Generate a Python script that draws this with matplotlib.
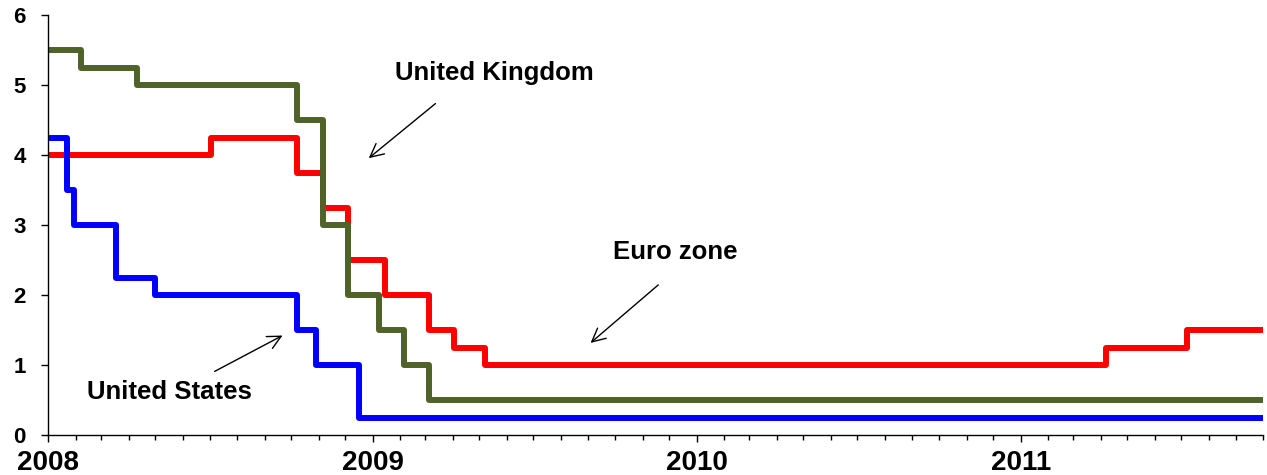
import matplotlib
matplotlib.use("Agg")
import matplotlib.pyplot as plt
import matplotlib.dates as mdates
import pandas as pd

plt.rcParams['font.family'] = ['Liberation Sans', 'DejaVu Sans']
plt.rcParams['font.weight'] = 'bold'

end_date = '2011-10-01'

# policy rate decisions (date, new rate)
us_dates = ['2008-01-01', '2008-01-22', '2008-01-30', '2008-03-18', '2008-04-30',
            '2008-10-08', '2008-10-29', '2008-12-16', end_date]
us_rates = [4.25, 3.5, 3.0, 2.25, 2.0, 1.5, 1.0, 0.25, 0.25]

uk_dates = ['2008-01-01', '2008-02-07', '2008-04-10', '2008-10-08', '2008-11-06',
            '2008-12-04', '2009-01-08', '2009-02-05', '2009-03-05', end_date]
uk_rates = [5.5, 5.25, 5.0, 4.5, 3.0, 2.0, 1.5, 1.0, 0.5, 0.5]

ez_dates = ['2008-01-01', '2008-07-03', '2008-10-08', '2008-11-06', '2008-12-04',
            '2009-01-15', '2009-03-05', '2009-04-02', '2009-05-07', '2011-04-07',
            '2011-07-07', end_date]
ez_rates = [4.0, 4.25, 3.75, 3.25, 2.5, 2.0, 1.5, 1.25, 1.0, 1.25, 1.5, 1.5]

fig = plt.figure(figsize=(12.67, 4.75), dpi=100)
ax = fig.add_axes([0.0379, 0.0842, 0.9589, 0.8842])

lw = 4.3
ax.step(pd.to_datetime(ez_dates), ez_rates, where='post', color='#FF0000', lw=lw)
ax.step(pd.to_datetime(uk_dates), uk_rates, where='post', color='#4F6228', lw=lw)
ax.step(pd.to_datetime(us_dates), us_rates, where='post', color='#0000FF', lw=lw)

ax.set_xlim(pd.Timestamp('2008-01-01'), pd.Timestamp(end_date))
ax.set_ylim(0, 6)
ax.set_yticks(range(0, 7))

ax.xaxis.set_major_locator(mdates.YearLocator())
ax.xaxis.set_major_formatter(mdates.DateFormatter('%Y'))
ax.xaxis.set_minor_locator(mdates.MonthLocator())

ax.spines['top'].set_visible(False)
ax.spines['right'].set_visible(False)
for s in ('left', 'bottom'):
    ax.spines[s].set_linewidth(1.0)
    ax.spines[s].set_color('black')

ax.tick_params(axis='y', direction='out', length=5, width=1, labelsize=16, pad=11)
ax.tick_params(axis='x', which='major', direction='out', length=5, width=1,
               labelsize=20, pad=6)
ax.tick_params(axis='x', which='minor', direction='out', length=3.6, width=1)

arrow = dict(arrowstyle='->', color='black', lw=1, mutation_scale=24)
d = pd.Timestamp

ax.text(d('2009-05-18'), 5.17, 'United Kingdom', fontsize=18.5, ha='center', va='center')
ax.annotate('', xy=(d('2008-12-25'), 3.93), xytext=(d('2009-03-15'), 4.76), arrowprops=arrow)

ax.text(d('2009-12-08'), 2.61, 'Euro zone', fontsize=18.5, ha='center', va='center')
ax.annotate('', xy=(d('2009-09-01'), 1.29), xytext=(d('2009-11-21'), 2.17), arrowprops=arrow)

ax.text(d('2008-05-17'), 0.61, 'United States', fontsize=18.5, ha='center', va='center')
ax.annotate('', xy=(d('2008-09-24'), 1.44), xytext=(d('2008-07-04'), 0.89), arrowprops=arrow)

fig.savefig('out.png', dpi=100)
